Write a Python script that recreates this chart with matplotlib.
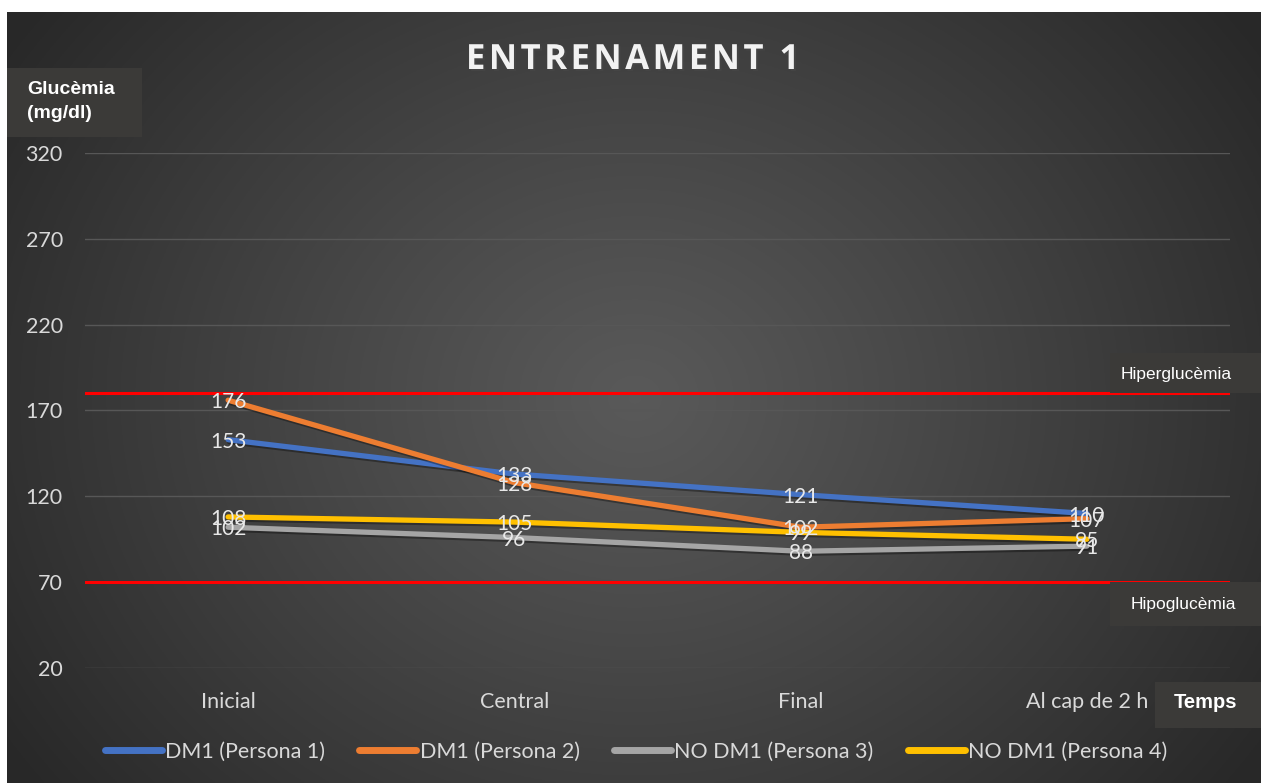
import numpy as np
import matplotlib.pyplot as plt
import matplotlib.patheffects as pe
from matplotlib.patches import Rectangle

moments = ["Inicial", "Central", "Final", "Al cap de 2 h"]
persona1 = [153, 133, 121, 110]
persona2 = [176, 128, 102, 107]
persona3 = [102, 96, 88, 91]
persona4 = [108, 105, 99, 95]
noms = ["DM1 (Persona 1)", "DM1 (Persona 2)", "NO DM1 (Persona 3)", "NO DM1 (Persona 4)"]
colors = ["#4472C4", "#ED7D31", "#A5A5A5", "#FFC000"]
hiper = 180
hipo = 70
yticks = [20, 70, 120, 170, 220, 270, 320]

W, H = 1261, 783
fig = plt.figure(figsize=(W / 100, H / 100), dpi=100)
fig.patch.set_facecolor("white")

# dark radial background
bg = fig.add_axes([7 / W, 0, 1 - 7 / W, 1 - 12 / H], zorder=-10)
yy, xx = np.mgrid[0:400, 0:640]
cx, cy = 320, 200
r = np.sqrt(((xx - cx) / 380) ** 2 + ((yy - cy) / 330) ** 2)
lum = 0.35 - 0.19 * np.clip(r, 0, 1) ** 1.1
bg.imshow(np.dstack([lum, lum, lum]), aspect="auto", extent=[0, 1, 0, 1])
bg.axis("off")

def px(x, y, w, h):
    return (x / W, 1 - (y + h) / H), w / W, h / H

def box(x, y, w, h, color="#3b3a38"):
    xy, ww, hh = px(x, y, w, h)
    fig.patches.append(Rectangle(xy, ww, hh, transform=fig.transFigure,
                                 facecolor=color, edgecolor="none", zorder=1))

ax = fig.add_axes([85 / W, 1 - 668 / H, (1230 - 85) / W, (668 - 153) / H])
ax.set_facecolor("none")
x = np.arange(len(moments))
series = [persona1, persona2, persona3, persona4]
shadow = [pe.SimpleLineShadow(offset=(1, -1.5), alpha=0.35, shadow_color="black"), pe.Normal()]
for vals, c, n in zip(series, colors, noms):
    ax.plot(x, vals, color=c, lw=3.8, label=n, solid_capstyle="round",
            path_effects=shadow, zorder=3)
for vals in series:
    for xi, v in zip(x, vals):
        ax.text(xi, v, str(v), ha="center", va="center_baseline", color="#e8e8e8",
                fontsize=15, family="Lato", zorder=5)

ax.axhline(hiper, color="#ff0000", lw=2.2, zorder=2)
ax.axhline(hipo, color="#ff0000", lw=2.2, zorder=2)

ax.set_xlim(-0.5, 3.5)
ax.set_ylim(20, 320)
ax.set_yticks(yticks)
ax.set_xticks(x)
ax.set_xticklabels(moments)
ax.grid(axis="y", color="#575757", lw=1)
ax.set_axisbelow(True)
for s in ax.spines.values():
    s.set_visible(False)
ax.tick_params(length=0, colors="#d9d9d9", labelsize=15.5)
ax.tick_params(axis="y", pad=16)
ax.tick_params(axis="x", pad=17)
for lab in ax.get_xticklabels() + ax.get_yticklabels():
    lab.set_family("Lato")

fig.text(633 / W, 1 - 60 / H, "\u200a".join("ENTRENAMENT 1"),
         ha="center", va="center", fontsize=25, fontweight="bold",
         family="Open Sans", color="#f2f2f2",
         path_effects=[pe.withSimplePatchShadow(offset=(1.5, -1.5), alpha=0.5)])

box(7, 68, 135, 69)
fig.text(27 / W, 1 - 90 / H, "Glucèmia", fontsize=14, fontweight="bold",
         family="Liberation Sans", color="white", va="center")
fig.text(27 / W, 1 - 114 / H, "(mg/dl)", fontsize=14, fontweight="bold",
         family="Liberation Sans", color="white", va="center")

box(1110, 353, 151, 40)
fig.text(1176 / W, 1 - 374 / H, "Hiperglucèmia", fontsize=12.5, family="Liberation Sans",
         color="white", ha="center", va="center")
box(1110, 582, 151, 44)
fig.text(1183 / W, 1 - 604 / H, "Hipoglucèmia", fontsize=12.5, family="Liberation Sans",
         color="white", ha="center", va="center")
box(1155, 682, 106, 46)
fig.text(1206 / W, 1 - 703 / H, "Temps", fontsize=14.5, fontweight="bold",
         family="Liberation Sans", color="white", ha="center", va="center")

leg = fig.legend(loc="center", bbox_to_anchor=(636 / W, 1 - 752 / H), ncol=4,
                 frameon=False, handlelength=2.65, handletextpad=0.15,
                 columnspacing=1.6, prop={"family": "Lato", "size": 15.5})
for t in leg.get_texts():
    t.set_color("#d9d9d9")
for l in leg.get_lines():
    l.set_path_effects([])
    l.set_linewidth(5)

fig.savefig("out.png", dpi=100, facecolor="white")
